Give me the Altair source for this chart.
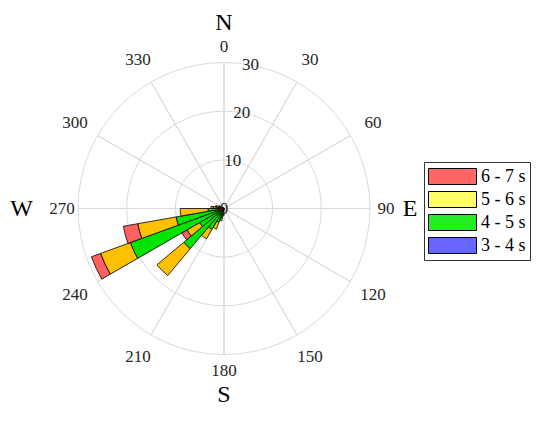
import math
import altair as alt
import pandas as pd

# ---- data ----
directions = [185, 195, 205, 215, 225, 235, 245, 255, 265, 275, 285, 295, 305]
bin_width = 10
classes = ["3 - 4 s", "4 - 5 s", "5 - 6 s", "6 - 7 s"]
freq_3_4 = [0.2, 0.3, 0.3, 0.3, 0.3, 0.3, 0.3, 0.3, 0.3, 0.3, 0.3, 0.2, 0.2]
freq_4_5 = [1.0, 1.7, 2.7, 4.7, 10.5, 5.5, 20.2, 9.7, 3.0, 1.2, 0.9, 0.8, 0.5]
freq_5_6 = [0.3, 0.6, 1.5, 2.2, 7.2, 3.0, 6.5, 8.0, 5.7, 0.7, 0.4, 0.2, 0.1]
freq_6_7 = [0.0, 0.0, 0.0, 0.0, 0.0, 1.2, 2.0, 3.0, 0.0, 0.5, 0.2, 0.0, 0.0]

bar_colors = ["#6666FF", "#00E400", "#FFC000", "#FF6060"]
legend_order = ["6 - 7 s", "5 - 6 s", "4 - 5 s", "3 - 4 s"]
legend_colors = ["#FF6666", "#FFFF66", "#22EE22", "#6666FF"]

ring_values = [10, 20, 30]
spoke_angles = list(range(0, 360, 30))
axis_label_angles = [0, 90, 180, 270]
diag_label_angles = [30, 60, 120, 150, 210, 240, 300, 330]
radial_ticks = [0, 10, 20, 30]
compass = ["N", "E", "S"]
compass_angles = [0, 90, 180]

# ---- tables ----
rows = []
for i, d in enumerate(directions):
    cum = 0.0
    for cls, vals in zip(classes, [freq_3_4, freq_4_5, freq_5_6, freq_6_7]):
        v = vals[i]
        if v > 0:
            rows.append(dict(start=d - bin_width / 2, end=d + bin_width / 2,
                             r0=cum, r1=cum + v, cls=cls))
            cum += v
bars_df = pd.DataFrame(rows)
rings_df = pd.DataFrame({"r": ring_values, "t0": [0] * 3, "t1": [360] * 3})
spokes_df = pd.DataFrame({"a": spoke_angles, "r": [30] * len(spoke_angles)})
axlab_df = pd.DataFrame({"a": axis_label_angles, "label": [str(a) for a in axis_label_angles]})
diaglab_df = pd.DataFrame({"a": diag_label_angles, "label": [str(a) for a in diag_label_angles]})
rticks_df = pd.DataFrame({"v": radial_ticks, "label": [str(v) for v in radial_ticks]})
compass_df = pd.DataFrame({"a": compass_angles, "label": compass})
west_df = pd.DataFrame({"a": [270], "label": ["W"]})
legend_df = pd.DataFrame({"cls": legend_order})

theta_scale = alt.Scale(domain=[0, 360], range=[0, 2 * math.pi])
r_scale = alt.Scale(type="linear", domain=[0, 30], range=[0, 146], zero=True)

CX, CY = 216, 200.5
GRID = "#d9d9d9"
SERIF = "Liberation Serif"

center = dict(x=alt.value(CX), y=alt.value(CY))

rings = alt.Chart(rings_df).mark_arc(filled=False, stroke=GRID, strokeWidth=1).encode(
    theta=alt.Theta("t0:Q", scale=theta_scale, stack=None),
    theta2="t1:Q",
    radius=alt.Radius("r:Q", scale=r_scale, stack=None),
    **center,
)

spokes = alt.Chart(spokes_df).mark_arc(filled=False, stroke=GRID, strokeWidth=1).encode(
    theta=alt.Theta("a:Q", scale=theta_scale, stack=None),
    theta2="a:Q",
    radius=alt.Radius("r:Q", scale=r_scale, stack=None),
    **center,
)

bars = alt.Chart(bars_df).mark_arc(stroke="black", strokeWidth=0.8).encode(
    theta=alt.Theta("start:Q", scale=theta_scale, stack=None),
    theta2="end:Q",
    radius=alt.Radius("r1:Q", scale=r_scale, stack=None),
    radius2="r0:Q",
    fill=alt.Fill("cls:N", scale=alt.Scale(domain=classes, range=bar_colors), legend=None),
    **center,
)

legend_layer = alt.Chart(legend_df).mark_arc().encode(
    theta=alt.value(0),
    theta2=alt.value(0),
    radius=alt.value(0),
    color=alt.Color(
        "cls:N",
        scale=alt.Scale(domain=legend_order, range=legend_colors),
        sort=legend_order,
        legend=alt.Legend(
            title=None, orient="none", legendX=416, legendY=154,
            symbolType="M-1,-0.8H3.8V0.8H-1Z", symbolSize=400,
            symbolStrokeColor="black", symbolStrokeWidth=1,
            labelFont=SERIF, labelFontSize=18, labelColor="black",
            labelOffset=32, strokeColor="#333333", fillColor="white",
            padding=4, rowPadding=2,
        ),
    ),
    **center,
)


def label_layer(df, rad):
    return alt.Chart(df).mark_text(
        font=SERIF, fontSize=17, color="#262626", align="center", baseline="middle"
    ).encode(
        theta=alt.Theta("a:Q", scale=theta_scale, stack=None),
        radius=alt.value(rad),
        text="label:N",
        **center,
    )


axis_text = label_layer(axlab_df, 162)
diag_text = label_layer(diaglab_df, 172)

radial_text = alt.Chart(rticks_df).mark_text(
    font=SERIF, fontSize=17, color="#262626", align="center", baseline="middle"
).encode(
    theta=alt.value(10.5 * math.pi / 180),
    radius=alt.Radius("v:Q", scale=r_scale, stack=None),
    text="label:N",
    **center,
)

compass_text = alt.Chart(compass_df).mark_text(
    font=SERIF, fontSize=24, color="black", align="center", baseline="middle"
).encode(
    theta=alt.Theta("a:Q", scale=theta_scale, stack=None),
    radius=alt.value(186),
    text="label:N",
    **center,
)

west_text = alt.Chart(west_df).mark_text(
    font=SERIF, fontSize=24, color="black", align="right", baseline="middle", dx=-4
).encode(
    theta=alt.Theta("a:Q", scale=theta_scale, stack=None),
    radius=alt.value(187),
    text="label:N",
    **center,
)

chart = alt.layer(
    rings, spokes, bars, legend_layer, axis_text, diag_text, radial_text,
    compass_text, west_text
).properties(
    width=534, height=409, padding=0, autosize="none", background="white"
).configure_view(stroke=None)

chart.save("out.html", embed_options={"renderer": "svg", "actions": False})
